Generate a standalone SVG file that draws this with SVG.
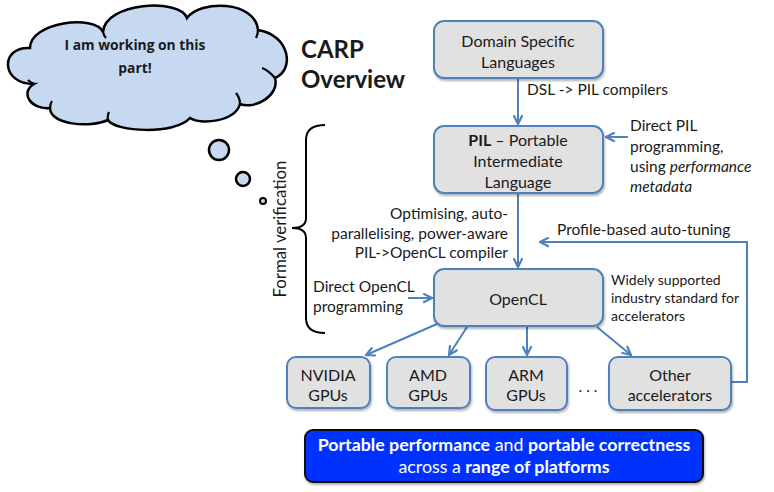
<svg xmlns="http://www.w3.org/2000/svg" width="774" height="492" viewBox="0 0 774 492">
<defs>
<style>
.box{fill:#e1e1e1;stroke:#4f81bd;stroke-width:2}
.bt{font-family:Lato,"Liberation Sans",sans-serif;font-size:16px;fill:#1a1a1a;text-anchor:middle}
.lb{font-family:Lato,"Liberation Sans",sans-serif;font-size:15.5px;fill:#1a1a1a}
.sm{font-family:Lato,"Liberation Sans",sans-serif;font-size:14px;fill:#1a1a1a}
.cn{fill:none;stroke:#4f81bd;stroke-width:2}
.wt{font-family:Lato,"Liberation Sans",sans-serif;font-size:17.8px;fill:#fff;text-anchor:middle}
</style>
<marker id="ah" viewBox="0 0 10 10" refX="9" refY="5" markerWidth="5.5" markerHeight="5.5" orient="auto" markerUnits="strokeWidth">
<path d="M1,1 L9,5 L1,9" fill="none" stroke="#4f81bd" stroke-width="2"/>
</marker>
<filter id="sh" x="-10%" y="-10%" width="130%" height="140%">
<feDropShadow dx="1" dy="2" stdDeviation="1.2" flood-color="#000" flood-opacity="0.3"/>
</filter>
</defs>
<rect width="774" height="492" fill="#fff"/>

<g id="cloud">
<path d="M30,48 C30,22 95,14 103,32 C105,2 180,-2 187,18 C200,0 255,0 258,30 C290,35 295,70 275,78 C280,95 255,110 240,104 C235,122 200,125 190,118 C175,135 115,132 108,120 C90,128 50,125 50,108 C30,110 20,92 34,84 C0,84 0,46 30,48 Z" fill="#c6d9f1" stroke="#000" stroke-width="2.5"/>
<path d="M34,84 Q30,82 28,80 M50,108 Q50,104 52,101 M108,120 Q107,116 109,112 M240,104 Q240,98 236,93 M275,78 Q268,70 262,68 M258,30 Q258,34 256,38 M103,32 Q104,36 106,38" fill="none" stroke="#000" stroke-width="2.2"/>
<text x="135" y="50" font-family="'Open Sans','Liberation Sans',sans-serif" font-size="13.8" font-weight="bold" text-anchor="middle" fill="#1a1a1a">I am working on this</text>
<text x="135" y="73" font-family="'Open Sans','Liberation Sans',sans-serif" font-size="13.8" font-weight="bold" text-anchor="middle" fill="#1a1a1a">part!</text>
<circle cx="219" cy="150" r="10" fill="#c6d9f1" stroke="#000" stroke-width="2.5"/>
<circle cx="243" cy="179" r="7" fill="#c6d9f1" stroke="#000" stroke-width="2.5"/>
<circle cx="263" cy="201" r="3" fill="#c6d9f1" stroke="#000" stroke-width="2"/>
</g>

<g id="title">
<text x="301" y="58" font-family="Lato,'Liberation Sans',sans-serif" font-size="24" font-weight="bold" fill="#1a1a1a">CARP</text>
<text x="301" y="88" font-family="Lato,'Liberation Sans',sans-serif" font-size="24" font-weight="bold" fill="#1a1a1a">Overview</text>
</g>

<g id="formal">
<path d="M325,125 Q306,125 306,140 L306,218 Q306,228 292,228 Q306,228 306,238 L306,318 Q306,333 325,333" fill="none" stroke="#000" stroke-width="2"/>
<text transform="translate(286,229) rotate(-90)" font-family="Lato,'Liberation Sans',sans-serif" font-size="16.8" fill="#1a1a1a" text-anchor="middle">Formal verification</text>
</g>

<g id="connectors">
<line class="cn" x1="518" y1="79" x2="518" y2="124" marker-end="url(#ah)"/>
<line class="cn" x1="628" y1="137" x2="606" y2="137" marker-end="url(#ah)"/>
<line class="cn" x1="518" y1="194" x2="518" y2="267" marker-end="url(#ah)"/>
<line class="cn" x1="408" y1="298" x2="432" y2="298" marker-end="url(#ah)"/>
<line class="cn" x1="437" y1="324" x2="366" y2="355" marker-end="url(#ah)"/>
<line class="cn" x1="467" y1="327" x2="449" y2="355" marker-end="url(#ah)"/>
<line class="cn" x1="527" y1="327" x2="527" y2="355" marker-end="url(#ah)"/>
<line class="cn" x1="597" y1="327" x2="631" y2="355" marker-end="url(#ah)"/>
<polyline class="cn" points="732,382 747,382 747,242 540,242" marker-end="url(#ah)"/>
</g>

<g id="dsl">
<rect class="box" x="434" y="21" width="169" height="57" rx="10" filter="url(#sh)"/>
<text class="bt" x="518" y="47">Domain Specific</text>
<text class="bt" x="518" y="68">Languages</text>
</g>
<text class="lb" x="527" y="95">DSL -&gt; PIL compilers</text>

<g id="pil">
<rect class="box" x="434" y="126" width="169" height="67" rx="10" filter="url(#sh)"/>
<text class="bt" x="518" y="146"><tspan font-weight="bold">PIL</tspan> – Portable</text>
<text class="bt" x="518" y="167">Intermediate</text>
<text class="bt" x="518" y="188">Language</text>
</g>
<g id="direct-pil">
<text class="lb" x="630" y="131">Direct PIL</text>
<text class="lb" x="630" y="152">programming,</text>
<text class="lb" x="630" y="172">using <tspan font-style="italic">performance</tspan></text>
<text class="lb" x="630" y="192" font-style="italic">metadata</text>
</g>

<g id="compiler-label">
<text class="lb" x="508" y="219" text-anchor="end">Optimising, auto-</text>
<text class="lb" x="508" y="239" text-anchor="end">parallelising, power-aware</text>
<text class="lb" x="508" y="258" text-anchor="end">PIL-&gt;OpenCL compiler</text>
</g>
<text class="lb" x="557" y="235">Profile-based auto-tuning</text>

<g id="direct-opencl">
<text class="lb" x="313" y="292">Direct OpenCL</text>
<text class="lb" x="313" y="312">programming</text>
</g>

<g id="opencl">
<rect class="box" x="434" y="269" width="169" height="57" rx="10" filter="url(#sh)"/>
<text class="bt" x="518" y="305">OpenCL</text>
</g>
<g id="opencl-note">
<text class="sm" x="611" y="285">Widely supported</text>
<text class="sm" x="611" y="303">industry standard for</text>
<text class="sm" x="611" y="321">accelerators</text>
</g>

<g id="nvidia">
<rect class="box" x="287" y="357" width="83" height="51" rx="9" filter="url(#sh)"/>
<text class="bt" x="328" y="381">NVIDIA</text>
<text class="bt" x="328" y="401">GPUs</text>
</g>
<g id="amd">
<rect class="box" x="387" y="357" width="83" height="51" rx="9" filter="url(#sh)"/>
<text class="bt" x="428" y="381">AMD</text>
<text class="bt" x="428" y="401">GPUs</text>
</g>
<g id="arm">
<rect class="box" x="486" y="357" width="81" height="53" rx="9" filter="url(#sh)"/>
<text class="bt" x="526" y="381">ARM</text>
<text class="bt" x="526" y="401">GPUs</text>
</g>
<text class="lb" x="588" y="392" text-anchor="middle">. . .</text>
<g id="other">
<rect class="box" x="609" y="357" width="122" height="53" rx="9" filter="url(#sh)"/>
<text class="bt" x="670" y="381">Other</text>
<text class="bt" x="670" y="401">accelerators</text>
</g>

<g id="summary">
<rect x="305" y="430" width="398" height="52" rx="8" fill="#0433ff" stroke="#111" stroke-width="2" filter="url(#sh)"/>
<text class="wt" x="504" y="451"><tspan font-weight="bold">Portable performance</tspan> and <tspan font-weight="bold">portable correctness</tspan></text>
<text class="wt" x="504" y="473">across a <tspan font-weight="bold">range of platforms</tspan></text>
</g>
</svg>
